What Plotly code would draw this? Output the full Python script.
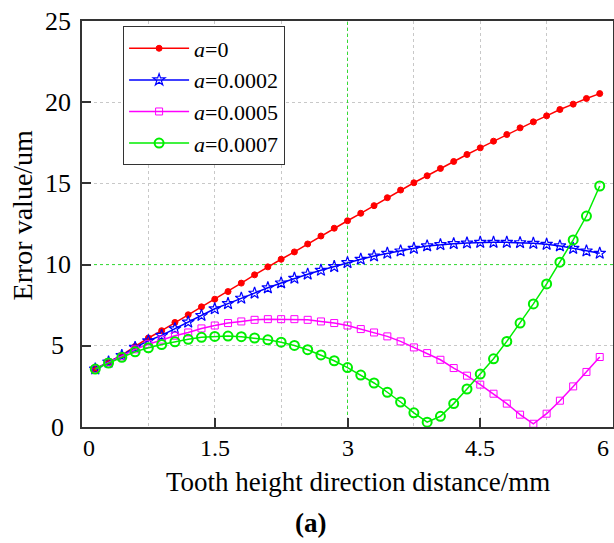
import plotly.graph_objects as go

# ---- data ----
x_vals = [0.15, 0.30, 0.45, 0.60, 0.75, 0.90, 1.05, 1.20, 1.35, 1.50,
          1.65, 1.80, 1.95, 2.10, 2.25, 2.40, 2.55, 2.70, 2.85, 3.00,
          3.15, 3.30, 3.45, 3.60, 3.75, 3.90, 4.05, 4.20, 4.35, 4.50,
          4.65, 4.80, 4.95, 5.10, 5.25, 5.40, 5.55, 5.70, 5.85]

err_a0 = [3.57, 4.00, 4.42, 4.96, 5.48, 5.93, 6.44, 6.91, 7.40, 7.87,
          8.34, 8.86, 9.37, 9.86, 10.33, 10.78, 11.27, 11.76, 12.24, 12.70,
          13.16, 13.63, 14.12, 14.59, 15.04, 15.47, 15.92, 16.35, 16.78, 17.19,
          17.60, 18.01, 18.42, 18.79, 19.16, 19.55, 19.88, 20.23, 20.53]

err_a2 = [3.57, 4.00, 4.40, 4.90, 5.31, 5.64, 6.05, 6.46, 6.87, 7.28,
          7.60, 7.93, 8.24, 8.57, 8.87, 9.16, 9.41, 9.65, 9.88, 10.12,
          10.33, 10.53, 10.70, 10.84, 11.00, 11.15, 11.23, 11.29, 11.33, 11.37,
          11.37, 11.37, 11.35, 11.31, 11.25, 11.15, 11.00, 10.84, 10.70]

err_a5 = [3.57, 3.98, 4.35, 4.78, 5.10, 5.38, 5.62, 5.82, 6.07, 6.25,
          6.40, 6.50, 6.60, 6.64, 6.64, 6.64, 6.60, 6.50, 6.40, 6.25,
          6.03, 5.82, 5.58, 5.27, 4.90, 4.55, 4.14, 3.63, 3.16, 2.61,
          2.05, 1.44, 0.76, 0.20, 0.82, 1.62, 2.50, 3.39, 4.31]

err_a7 = [3.57, 3.94, 4.29, 4.63, 4.88, 5.08, 5.25, 5.40, 5.52, 5.58,
          5.60, 5.56, 5.48, 5.37, 5.22, 5.02, 4.76, 4.44, 4.08, 3.66,
          3.20, 2.71, 2.14, 1.54, 0.87, 0.30, 0.66, 1.44, 2.34, 3.26,
          4.20, 5.27, 6.40, 7.58, 8.81, 10.15, 11.52, 12.99, 14.84]

series_names = ["<i>a</i>=0", "<i>a</i>=0.0002", "<i>a</i>=0.0005", "<i>a</i>=0.0007"]
x_ticks = [0, 1.5, 3, 4.5, 6]
x_tick_text = ["0", "1.5", "3", "4.5", "6"]
y_ticks = [0, 5, 10, 15, 20, 25]
y_tick_text = ["0", "5", "10", "15", "20", "25"]

FONT = "Liberation Serif, Times New Roman, serif"

fig = go.Figure()
styles = [
    dict(color="#ff0000", symbol="circle", size=6, lw=1.0),
    dict(color="#0000ff", symbol="star-open", size=9, lw=1.2),
    dict(color="#ff00ff", symbol="square-open", size=7, lw=1.0),
    dict(color="#00ee00", symbol="circle-open", size=9, lw=2.0),
]
for ys, name, st in zip([err_a0, err_a2, err_a5, err_a7], series_names, styles):
    fig.add_trace(go.Scatter(
        x=x_vals, y=ys, name=name, mode="lines+markers",
        line=dict(color=st["color"], width=1.5),
        marker=dict(symbol=st["symbol"], size=st["size"], color=st["color"],
                    line=dict(color=st["color"], width=st["lw"])),
        cliponaxis=False,
    ))

# green dotted reference lines
fig.add_shape(type="line", xref="x", yref="y", x0=3, x1=3, y0=0, y1=25,
              line=dict(color="#33dd33", width=1, dash="dot"), layer="between")
fig.add_shape(type="line", xref="x", yref="y", x0=0, x1=6, y0=10, y1=10,
              line=dict(color="#33dd33", width=1, dash="dot"), layer="between")

# tick labels as annotations (placed by the axes scales)
for v, t in zip(x_ticks, x_tick_text):
    shift = 0
    if v == 0:
        shift = 7
    elif v == 6:
        shift = -10
    fig.add_annotation(x=v, xref="x", y=0, yref="paper", yshift=-21, xshift=shift,
                       text=t, showarrow=False, yanchor="middle", xanchor="center",
                       borderpad=0, font=dict(family=FONT, size=24, color="black"))
for v, t in zip(y_ticks, y_tick_text):
    fig.add_annotation(x=-0.046, xref="paper", y=v, yref="y",
                       text=t, showarrow=False, xanchor="center", yanchor="middle",
                       borderpad=0, font=dict(family=FONT, size=26, color="black"))

fig.add_annotation(x=0.52, xref="paper", y=-0.135, yref="paper",
                   text="Tooth height direction distance/mm", showarrow=False,
                   xanchor="center", yanchor="middle", borderpad=0,
                   font=dict(family=FONT, size=27, color="black"))
fig.add_annotation(x=-0.112, xref="paper", y=0.52, yref="paper",
                   text="Error value/um", showarrow=False, textangle=-90,
                   xanchor="center", yanchor="middle", borderpad=0,
                   font=dict(family=FONT, size=28, color="black"))
fig.add_annotation(x=0.43, xref="paper", y=-0.237, yref="paper",
                   text="<b>(a)</b>", showarrow=False,
                   xanchor="center", yanchor="middle", borderpad=0,
                   font=dict(family=FONT, size=27, color="black"))

axis_common = dict(
    showline=True, linecolor="#333333", linewidth=1.5, mirror=True,
    ticks="inside", ticklen=9, tickcolor="#333333", tickwidth=1.5,
    showticklabels=False, zeroline=False, automargin=False,
    showgrid=True, gridcolor="#c8c8c8", gridwidth=1, griddash="dot",
)

fig.update_layout(
    width=614, height=543,
    margin=dict(l=82, r=1, t=21, b=116),
    paper_bgcolor="white", plot_bgcolor="white",
    showlegend=True,
    legend=dict(
        x=0.077, y=0.987, xanchor="left", yanchor="top",
        bgcolor="white", bordercolor="#333333", borderwidth=1.2,
        font=dict(family=FONT, size=22, color="black"),
        tracegroupgap=0, itemwidth=60,
    ),
    xaxis=dict(range=[0, 6], tickvals=x_ticks,
               minor=dict(dtick=0.75, tick0=0, showgrid=True, gridcolor="#c8c8c8",
                          griddash="dot", gridwidth=1, ticks=""),
               **axis_common),
    yaxis=dict(range=[0, 25], tickvals=y_ticks, **axis_common),
)

fig.write_html("out.html", config={"displayModeBar": False},
               post_script="document.body.style.margin='0';document.body.style.overflow='hidden';")
